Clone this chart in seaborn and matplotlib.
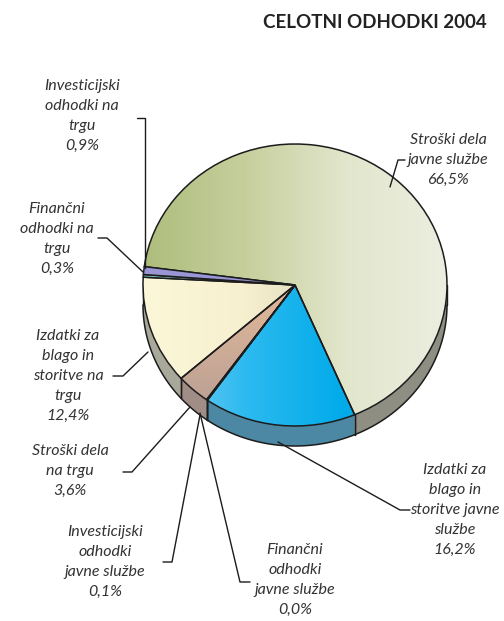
import numpy as np
import matplotlib
matplotlib.use("Agg")
import matplotlib.pyplot as plt
import seaborn as sns
from matplotlib.colors import LinearSegmentedColormap

sns.set_theme(style="white")
plt.rcParams['font.family'] = ['Lato', 'DejaVu Sans']

# data (clockwise from the big slice)
labels = ["Stroški dela\njavne službe", "Izdatki za\nblago in\nstoritve javne\nslužbe",
          "Finančni\nodhodki\njavne službe", "Investicijski\nodhodki\njavne službe",
          "Stroški dela\nna trgu", "Izdatki za\nblago in\nstoritve na\ntrgu",
          "Finančni\nodhodki na\ntrgu", "Investicijski\nodhodki na\ntrgu"]
shares = [66.5, 16.2, 0.0, 0.1, 3.6, 12.4, 0.3, 0.9]
pct_text = ["66,5%", "16,2%", "0,0%", "0,1%", "3,6%", "12,4%", "0,3%", "0,9%"]

top_cols = ["#d3dab0", "#1ab4ec", "#6fa8c8", "#8fa0b8", "#e8b890", "#efe9c8", "#7cc8c0", "#9a96d6"]
grad_cols = [["#aebd7c", "#c6cf9c", "#e2e6cc", "#eceee0"],
             ["#8ad4f4", "#2dbaf0", "#00abe9", "#41bdec"],
             None, None,
             ["#b49c94", "#e3b999", "#f8cf9e"],
             ["#fbf7d8", "#f7f0cf", "#d8d1b8", "#b8b29e"],
             None, None]
wall_cols = ["#8e8e82", "#4c88a3", "#5c7f95", "#6d7c90", "#a08e86", "#a9a99b", "#6aa29c", "#7c78b0"]

# layout in pixels
W, H = 504, 621
cx, cy, rx, ry = 295, 285, 152, 141
depth = 20 / ry


def px(x, y):
    return (x - cx) / rx, (cy - y) / ry


fig = plt.figure(figsize=(W / 100, H / 100), dpi=100)
ax = fig.add_axes([0, 0, 1, 1])

start = 172.5
wedges, _ = ax.pie(shares, startangle=start, counterclock=False, colors=top_cols,
                   wedgeprops=dict(edgecolor="#1c1c1c", linewidth=1.1, zorder=3))

x0, _ = px(0, 0)
x1, _ = px(W, 0)
_, y1 = px(0, 0)
_, y0 = px(0, H)
ax.set_xlim(x0, x1)
ax.set_ylim(y0, y1)
ax.set_aspect("auto")
ax.axis("off")

# side walls (front half only)
bounds = start - 360 * np.concatenate([[0], np.cumsum(shares)]) / 100
for i in range(len(shares)):
    hi, lo = bounds[i], bounds[i + 1]
    lo_c, hi_c = max(lo, -180), min(hi, 0)
    if hi_c - lo_c <= 0.05:
        continue
    t = np.radians(np.linspace(lo_c, hi_c, 80))
    xs = np.concatenate([np.cos(t), np.cos(t[::-1])])
    ys = np.concatenate([np.sin(t), np.sin(t[::-1]) - depth])
    ax.fill(xs, ys, color=wall_cols[i], zorder=1, lw=0)
    ax.plot(np.cos(t), np.sin(t) - depth, color="#1c1c1c", lw=1.1, zorder=1.5)
    for a in (lo_c, hi_c):
        r = np.radians(a)
        ax.plot([np.cos(r)] * 2, [np.sin(r), np.sin(r) - depth], color="#1c1c1c", lw=1.0, zorder=1.5)

# gradient fills on top face
for i, w in enumerate(wedges):
    if grad_cols[i] is None:
        continue
    cmap = LinearSegmentedColormap.from_list("g%d" % i, grad_cols[i])
    if i == 4:
        g = np.linspace(0, 1, 200).reshape(-1, 1)
    else:
        g = np.linspace(0, 1, 200).reshape(1, -1)
    im = ax.imshow(g, cmap=cmap, extent=(-1, 1, -1, 1), origin="lower",
                   aspect="auto", zorder=2, interpolation="bilinear")
    im.set_clip_path(w)
    w.set_facecolor("none")

# labels
txt_pos = [(448, 160), (455, 510), (295, 580), (105, 562),
           (70, 471), (68, 376), (57, 239), (82, 116)]
leaders = [[(405, 160), (398, 160), (390, 187)],
           [(410, 510), (400, 510), (278, 442)],
           [(250, 582), (240, 582), (200, 413)],
           [(163, 562), (172, 562), (200, 415)],
           [(123, 472), (132, 472), (190, 407)],
           [(113, 376), (123, 376), (148, 352)],
           [(98, 238), (107, 238), (143, 272)],
           [(137, 118), (145, 118), (145, 268)]]
for i in range(len(shares)):
    tx, ty = px(*txt_pos[i])
    ax.text(tx, ty, labels[i] + "\n" + pct_text[i], ha="center", va="center",
            style="italic", fontsize=11.5, color="#333333", linespacing=1.55, zorder=5)
    pts = [px(*p) for p in leaders[i]]
    ax.plot([p[0] for p in pts], [p[1] for p in pts], color="#1c1c1c", lw=1.0, zorder=4)

fig.text(375 / W, 1 - 22 / H, "CELOTNI ODHODKI 2004", ha="center", va="center",
         fontsize=13.5, fontweight="bold", color="#222222")

fig.savefig("out.png", dpi=100, facecolor="white")
